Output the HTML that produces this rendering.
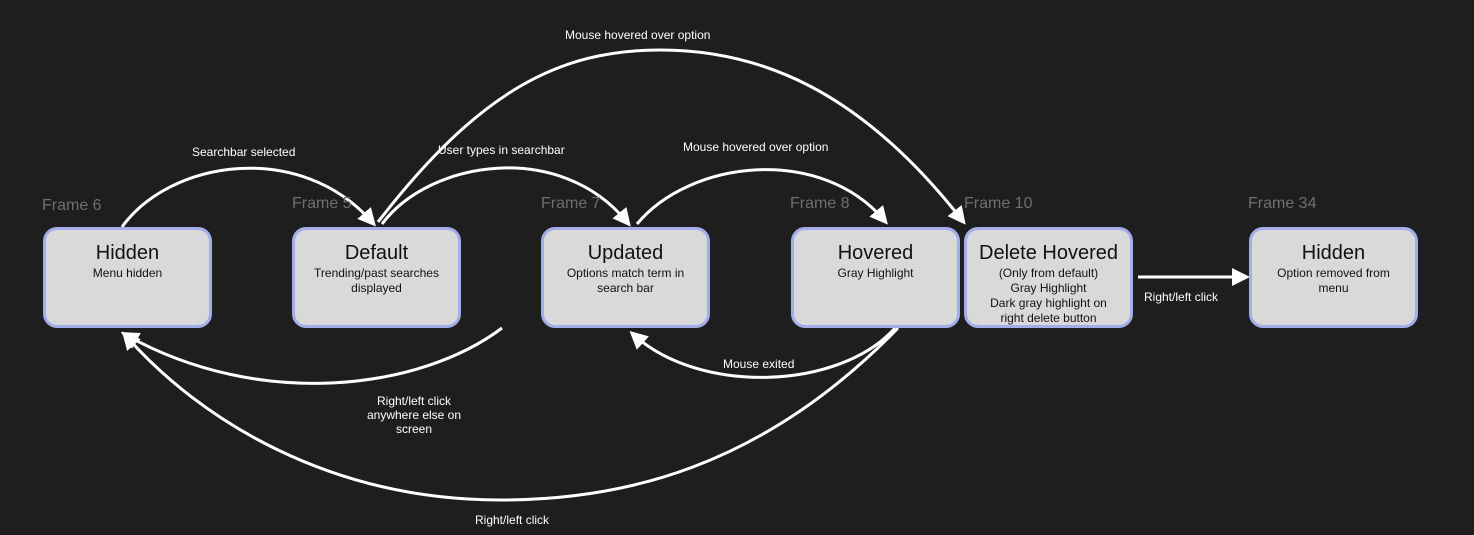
<!DOCTYPE html>
<html><head><style>
body{margin:0;width:1474px;height:535px;background:#1e1e1e;overflow:hidden;font-family:"Liberation Sans",sans-serif;position:relative}
.f{position:absolute;color:#6f6f6f;font-size:16px}
.b{position:absolute;width:163px;height:95px;top:227px;background:#d9d9d9;border:3px solid #a3ade9;border-radius:14px;box-sizing:content-box;text-align:center;color:#111}
.b h{display:block;font-size:20px;margin-top:11px;line-height:24px}
.b p{margin:1px 14px 0;font-size:12px;line-height:15px}
.l{position:absolute;color:#fff;font-size:12px;text-align:center}
svg{position:absolute;left:0;top:0}
</style></head><body>
<svg width="1474" height="535" fill="none" stroke="#fff" stroke-width="3">
<defs><marker id="a" markerWidth="6" markerHeight="6" refX="4" refY="3" orient="auto" markerUnits="strokeWidth"><path d="M0,0L6,3L0,6z" fill="#fff" stroke="none"/></marker></defs>
<path d="M122,227 C170,160 300,140 372,222" marker-end="url(#a)"/>
<path d="M382,224 C430,160 560,140 627,222" marker-end="url(#a)"/>
<path d="M637,224 C690,160 820,145 884,220" marker-end="url(#a)"/>
<path d="M378,222 C480,90 560,50 660,50 C760,50 860,90 962,220" marker-end="url(#a)"/>
<path d="M1138,277 L1244,277" marker-end="url(#a)"/>
<path d="M895,328 C840,390 700,395 634,335" marker-end="url(#a)"/>
<path d="M502,328 C420,390 260,410 126,335" marker-end="url(#a)"/>
<path d="M898,328 C760,470 620,500 500,500 C330,500 200,420 126,336" marker-end="url(#a)"/>
</svg>
<div class="f" style="left:42px;top:197px">Frame 6</div>
<div class="f" style="left:292px;top:195px">Frame 5</div>
<div class="f" style="left:541px;top:195px">Frame 7</div>
<div class="f" style="left:790px;top:195px">Frame 8</div>
<div class="f" style="left:964px;top:195px">Frame 10</div>
<div class="f" style="left:1248px;top:195px">Frame 34</div>
<div class="b" style="left:43px"><h>Hidden</h><p>Menu hidden</p></div>
<div class="b" style="left:292px"><h>Default</h><p>Trending/past searches displayed</p></div>
<div class="b" style="left:541px"><h>Updated</h><p>Options match term in search bar</p></div>
<div class="b" style="left:791px"><h>Hovered</h><p>Gray Highlight</p></div>
<div class="b" style="left:964px"><h>Delete Hovered</h><p>(Only from default)<br>Gray Highlight<br>Dark gray highlight on right delete button</p></div>
<div class="b" style="left:1249px"><h>Hidden</h><p style="margin:1px 22px 0">Option removed from menu</p></div>
<div class="l" style="left:565px;top:28px">Mouse hovered over option</div>
<div class="l" style="left:192px;top:145px">Searchbar selected</div>
<div class="l" style="left:438px;top:143px">User types in searchbar</div>
<div class="l" style="left:683px;top:140px">Mouse hovered over option</div>
<div class="l" style="left:1144px;top:290px">Right/left click</div>
<div class="l" style="left:723px;top:357px">Mouse exited</div>
<div class="l" style="left:354px;top:394px;width:120px">Right/left click anywhere else on screen</div>
<div class="l" style="left:475px;top:513px">Right/left click</div>
</body></html>
